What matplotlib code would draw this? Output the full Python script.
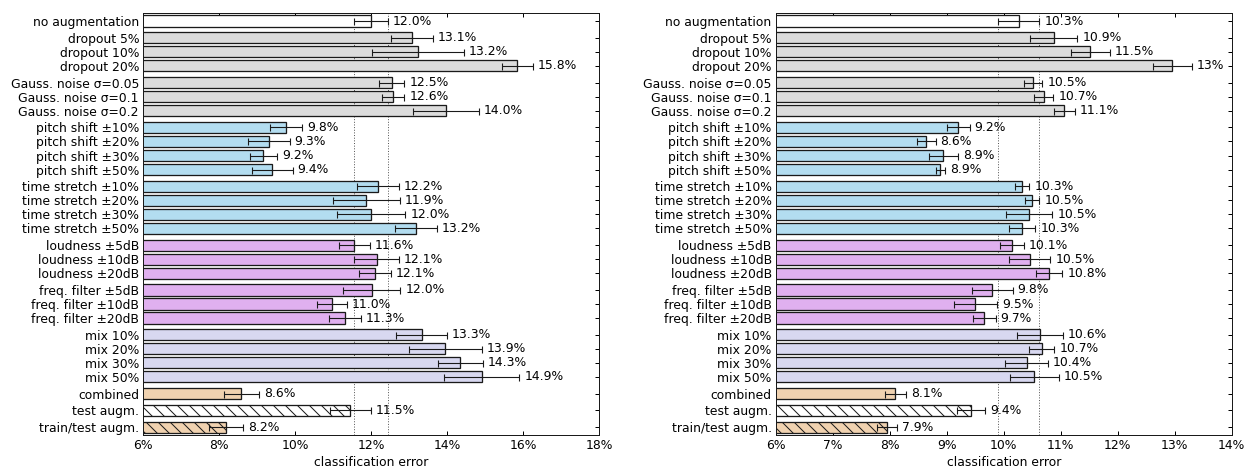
#!/usr/bin/env python3
"""
Data augmentation comparison: classification error per augmentation method
for two datasets (left / right panel), drawn as horizontal bars with error bars.
"""

import matplotlib
matplotlib.use('Agg')
import matplotlib.pyplot as plt
import numpy as np

# Row names, top to bottom
methods = ['no augmentation',
           'dropout 5%', 'dropout 10%', 'dropout 20%',
           'Gauss. noise σ=0.05', 'Gauss. noise σ=0.1', 'Gauss. noise σ=0.2',
           'pitch shift ±10%', 'pitch shift ±20%', 'pitch shift ±30%', 'pitch shift ±50%',
           'time stretch ±10%', 'time stretch ±20%', 'time stretch ±30%', 'time stretch ±50%',
           'loudness ±5dB', 'loudness ±10dB', 'loudness ±20dB',
           'freq. filter ±5dB', 'freq. filter ±10dB', 'freq. filter ±20dB',
           'mix 10%', 'mix 20%', 'mix 30%', 'mix 50%',
           'combined', 'test augm.', 'train/test augm.']

# How many rows belong to each visual group
group_sizes = [1, 3, 3, 4, 4, 3, 3, 4, 1, 1, 1]

# Fill colour per row and hatch per row
row_colors = (['#ffffff'] + ['#dcdcdc'] * 6 + ['#b3ddf0'] * 8 + ['#e0b0ef'] * 6
              + ['#d8d8f0'] * 4 + ['#f0d2b0', '#ffffff', '#f0d2b0'])
row_hatches = [''] * 26 + ['\\\\', '\\\\']

# Left panel (errors in %)
left_mean = [12.00, 13.07, 13.24, 15.85, 12.54, 12.59, 13.97,
             9.76, 9.31, 9.17, 9.40,
             12.19, 11.87, 12.00, 13.18,
             11.56, 12.15, 12.11, 12.02, 10.98, 11.32,
             13.33, 13.95, 14.35, 14.91,
             8.59, 11.46, 8.19]
left_err = [0.44, 0.55, 1.21, 0.40, 0.34, 0.29, 0.86,
            0.43, 0.55, 0.36, 0.54,
            0.55, 0.88, 0.90, 0.56,
            0.41, 0.59, 0.42, 0.75, 0.39, 0.42,
            0.67, 0.96, 0.59, 0.99,
            0.47, 0.53, 0.45]
left_labels = ['12.0%', '13.1%', '13.2%', '15.8%', '12.5%', '12.6%', '14.0%',
               '9.8%', '9.3%', '9.2%', '9.4%',
               '12.2%', '11.9%', '12.0%', '13.2%',
               '11.6%', '12.1%', '12.1%', '12.0%', '11.0%', '11.3%',
               '13.3%', '13.9%', '14.3%', '14.9%',
               '8.6%', '11.5%', '8.2%']
left_xticks = [6, 8, 10, 12, 14, 16, 18]

# Right panel (errors in %)
right_mean = [10.26, 10.88, 11.52, 12.96, 10.52, 10.70, 11.06,
              9.20, 8.64, 8.94, 8.89,
              10.32, 10.50, 10.45, 10.32,
              10.14, 10.46, 10.80, 9.80, 9.50, 9.66,
              10.64, 10.67, 10.40, 10.54,
              8.10, 9.43, 7.95]
right_err = [0.365, 0.41, 0.34, 0.335, 0.16, 0.17, 0.185,
             0.20, 0.165, 0.255, 0.085,
             0.13, 0.125, 0.405, 0.235,
             0.21, 0.36, 0.23, 0.355, 0.38, 0.20,
             0.40, 0.22, 0.38, 0.425,
             0.19, 0.25, 0.18]
right_labels = ['10.3%', '10.9%', '11.5%', '13%', '10.5%', '10.7%', '11.1%',
                '9.2%', '8.6%', '8.9%', '8.9%',
                '10.3%', '10.5%', '10.5%', '10.3%',
                '10.1%', '10.5%', '10.8%', '9.8%', '9.5%', '9.7%',
                '10.6%', '10.7%', '10.4%', '10.5%',
                '8.1%', '9.4%', '7.9%']
right_xticks = [6, 7, 8, 9, 10, 11, 12, 13, 14]

FS = 12.4


def row_positions():
    """y position of each row: 1 within a group, 1.2 between groups"""
    pos = []
    y = 0.0
    for gi, n in enumerate(group_sizes):
        if gi > 0:
            y += 1.2
        for k in range(n):
            if k > 0:
                y += 1.0
            pos.append(y)
    return np.array(pos)


def draw_panel(ax, means, errs, labels, xticks):
    """One horizontal bar panel"""
    y = row_positions()

    # dotted reference lines at the 'no augmentation' error range
    for x in (means[0] - errs[0], means[0] + errs[0]):
        ax.axvline(x, color='0.35', linestyle=':', linewidth=1, zorder=0)

    ax.barh(y, means, height=0.8, left=0, color=row_colors, edgecolor='0.1',
            linewidth=1.3, hatch=row_hatches, zorder=2)
    ax.errorbar(means, y, xerr=errs, fmt='none', ecolor='0.1', elinewidth=1.1,
                capsize=3.5, capthick=1.1, zorder=3)

    for yi, m, e, lab in zip(y, means, errs, labels):
        ax.annotate(lab, (m + e, yi), xytext=(5, 0), textcoords='offset points',
                    ha='left', va='center', fontsize=FS)

    ax.set_yticks(y)
    ax.set_yticklabels(methods)
    ax.set_ylim(y[-1] + 0.55, y[0] - 0.55)
    ax.set_xlim(xticks[0], xticks[-1])
    ax.set_xticks(xticks)
    ax.set_xticklabels([f'{t}%' for t in xticks])
    ax.set_xlabel('classification error', fontsize=FS, labelpad=4)
    ax.tick_params(axis='both', direction='in', length=4, width=1, labelsize=FS,
                   top=True, right=True, pad=4)
    for s in ax.spines.values():
        s.set_linewidth(1)
        s.set_color('0.1')


def main():
    plt.rcParams['font.family'] = 'DejaVu Sans'
    plt.rcParams['hatch.linewidth'] = 1.0
    plt.rcParams['hatch.color'] = 'black'

    # 72 dpi so that points == pixels
    fig = plt.figure(figsize=(1246 / 72, 468 / 72), dpi=72)
    ax1 = fig.add_axes([143 / 1246, 1 - 435 / 468, 456 / 1246, 421.7 / 468])
    ax2 = fig.add_axes([775.7 / 1246, 1 - 435 / 468, 456 / 1246, 421.7 / 468])

    draw_panel(ax1, left_mean, left_err, left_labels, left_xticks)
    draw_panel(ax2, right_mean, right_err, right_labels, right_xticks)

    fig.savefig('out.png', dpi=72)


if __name__ == "__main__":
    main()
